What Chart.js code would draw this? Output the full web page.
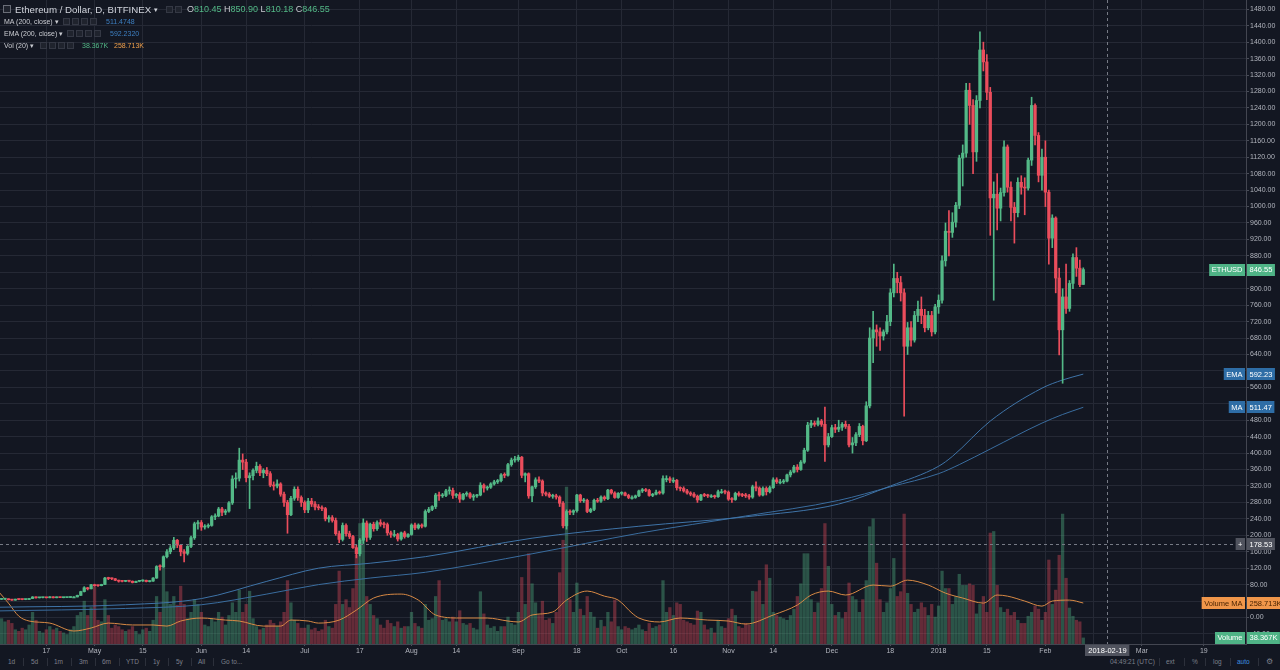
<!DOCTYPE html>
<html>
<head>
<meta charset="utf-8">
<script src="https://cdn.jsdelivr.net/npm/chart.js@4.4.1/dist/chart.umd.min.js"></script>
<style>
  html, body { margin:0; padding:0; background:#131722; }
  #wrap { position:relative; width:1280px; height:670px; overflow:hidden; background:#131722; font-family:"Liberation Sans", Arial, sans-serif; }
  #c { position:absolute; left:0; top:0; }
  .t { position:absolute; white-space:nowrap; line-height:1; }
  .box { position:absolute; width:7px; height:7px; background:#1f232d; border:1px solid #343844; box-sizing:border-box; }
  .tb { position:absolute; top:658px; font-size:6.5px; color:#7c808b; white-space:nowrap; line-height:8px; }
  .sep { position:absolute; top:658px; width:1px; height:8px; background:#2c303b; }
  .k { color:#c9cbd1; }
  .g { color:#53b987; }
</style>
</head>
<body>
<div id="wrap">
  <canvas id="c" width="1280" height="656"></canvas>

  <!-- legend -->
  <div class="box" style="left:3px;top:5px;width:8px;height:8px;border-color:#6a6e78;"></div>
  <div class="t" style="left:15px;top:5px;font-size:9.7px;color:#d1d4dc;">Ethereum / Dollar, D, BITFINEX</div>
  <div class="t" style="left:154px;top:6px;font-size:7px;color:#d1d4dc;">▾</div>
  <div class="box" style="left:166px;top:6px;"></div>
  <div class="box" style="left:175px;top:6px;"></div>
  <div class="t" style="left:187px;top:5px;font-size:9px;"><span class="k">O</span><span class="g">810.45</span> <span class="k">H</span><span class="g">850.90</span> <span class="k">L</span><span class="g">810.18</span> <span class="k">C</span><span class="g">846.55</span></div>

  <div class="t" style="left:4px;top:18px;font-size:7px;color:#c9cbd1;">MA (200, close) ▾</div>
  <div class="box" style="left:63px;top:18px;"></div><div class="box" style="left:72px;top:18px;"></div><div class="box" style="left:81px;top:18px;"></div><div class="box" style="left:90px;top:18px;"></div>
  <div class="t" style="left:106px;top:18px;font-size:7px;color:#3d7fc1;">511.4748</div>

  <div class="t" style="left:4px;top:30px;font-size:7px;color:#c9cbd1;">EMA (200, close) ▾</div>
  <div class="box" style="left:67px;top:30px;"></div><div class="box" style="left:76px;top:30px;"></div><div class="box" style="left:85px;top:30px;"></div><div class="box" style="left:94px;top:30px;"></div>
  <div class="t" style="left:110px;top:30px;font-size:7px;color:#3d7fc1;">592.2320</div>

  <div class="t" style="left:4px;top:42px;font-size:7px;color:#c9cbd1;">Vol (20) ▾</div>
  <div class="box" style="left:40px;top:42px;"></div><div class="box" style="left:49px;top:42px;"></div><div class="box" style="left:58px;top:42px;"></div><div class="box" style="left:67px;top:42px;"></div>
  <div class="t" style="left:82px;top:42px;font-size:7px;color:#53b987;">38.367K</div>
  <div class="t" style="left:114px;top:42px;font-size:7px;color:#f0a04b;">258.713K</div>

  <!-- bottom toolbar -->
  <div class="tb" style="left:8px;">1d</div><div class="sep" style="left:23px;"></div>
  <div class="tb" style="left:31px;">5d</div><div class="sep" style="left:47px;"></div>
  <div class="tb" style="left:54px;">1m</div><div class="sep" style="left:71px;"></div>
  <div class="tb" style="left:79px;">3m</div><div class="sep" style="left:95px;"></div>
  <div class="tb" style="left:102px;">6m</div><div class="sep" style="left:119px;"></div>
  <div class="tb" style="left:126px;">YTD</div><div class="sep" style="left:145px;"></div>
  <div class="tb" style="left:153px;">1y</div><div class="sep" style="left:168px;"></div>
  <div class="tb" style="left:176px;">5y</div><div class="sep" style="left:191px;"></div>
  <div class="tb" style="left:198px;">All</div><div class="sep" style="left:213px;"></div>
  <div class="tb" style="left:221px;">Go to...</div>
  <div class="tb" style="left:1110px;">04:49:21 (UTC)</div><div class="sep" style="left:1159px;"></div>
  <div class="tb" style="left:1166px;">ext</div><div class="sep" style="left:1184px;"></div>
  <div class="tb" style="left:1192px;">%</div><div class="sep" style="left:1205px;"></div>
  <div class="tb" style="left:1213px;">log</div><div class="sep" style="left:1230px;"></div>
  <div class="tb" style="left:1237px;color:#3d8fe0;">auto</div><div class="sep" style="left:1258px;"></div>
  <div class="tb" style="left:1266px;font-size:8px;">⚙</div>
</div>

<script>
// ---------- data (daily, 2017-04-01 .. 2018-02-12; day numbers counted from 2018-01-01) ----------
const firstDay = -275;

const open = [
  50.8,50.5,48.5,44.1,44.6,45.2,43.2,42.3,44.3,43.8,43.7,43.8,46.1,49.9,47.9,48.3,48.4,48.0,50.4,48.0,49.6,48.3,48.5,48.6,50.0,50.0,53.8,63.0,72.4,69.8,
  79.8,77.5,77.4,80.5,96.0,94.8,94.3,90.5,88.4,87.9,88.4,88.3,85.0,88.0,88.9,90.6,87.4,88.6,96.0,124,123.5,148,160,169,188,176,160,156,173,194,228,
  231,220,222,224,245,247,264,256,259,279,337,339,383,378,340,345,358,368,352,358,350,322,320,325,300,280,250,290,312,292,
  280,262,283,276,269,267,265,240,243,236,204,190,224,204,197,170,155,188,230,195,227,216,231,227,226,206,202,202,191,206,197,
  202,225,218,225,222,258,263,270,298,296,297,308,309,297,299,288,300,301,293,296,298,322,315,317,325,330,333,347,346,372,383,
  384,390,346,350,296,318,335,332,303,300,295,296,293,278,223,258,256,260,298,284,285,258,263,285,283,293,289,310,303,292,
  302,303,297,292,292,296,308,311,309,297,300,305,303,338,338,334,334,316,314,308,303,300,295,286,298,297,296,296,294,306,306,
  305,288,287,302,298,297,296,293,318,315,298,314,306,316,335,330,330,332,347,354,366,360,378,407,468,473,470,478,470,420,
  440,462,458,463,470,465,420,425,445,465,430,515,680,700,695,685,695,720,790,825,815,790,660,705,675,735,750,735,705,735,695,
  756,772,868,940,937,962,1003,1118,1130,1283,1246,1133,1258,1381,1352,1278,1021,1030,996,1034,1145,1047,998,985,1059,1047,1045,1113,1246,1173,1076,
  1120,1035,923,972,826,700,780,752,813,876,850,810.45
];
const high = [
  51.5,51.0,49.0,46.0,46.5,45.8,43.8,44.8,45.0,44.5,44.5,46.8,51.0,50.5,48.8,49.0,48.8,50.9,50.6,50.2,49.8,49.0,49.2,50.5,50.6,54.5,64.0,75.0,73.5,80.5,
  81,79,81,97.5,98,96,95,91,89.5,90,89.5,89,88.8,89.5,91.5,91,89.5,97,126,128,150,165,175,195,190,178,165,175,198,232,236,
  236,226,228,248,252,268,268,263,282,345,352,412,398,385,352,362,378,372,362,365,355,330,335,328,305,285,295,318,318,296,
  284,290,290,282,275,272,268,248,248,242,210,230,228,210,200,176,192,240,235,230,232,235,238,232,230,210,212,205,208,210,204,
  228,230,228,228,262,268,272,302,305,302,312,318,315,302,304,302,306,304,300,300,328,325,320,328,334,336,350,352,375,388,392,
  395,392,352,352,320,340,342,335,306,304,300,300,296,282,262,262,262,300,300,290,288,266,288,290,296,296,312,312,306,304,
  306,305,300,296,298,310,314,314,312,302,310,308,345,345,342,340,336,318,318,312,306,304,298,300,302,300,299,298,310,312,310,
  308,292,305,306,302,302,300,322,330,318,318,318,320,340,340,336,336,349,358,370,372,382,412,475,480,478,486,482,512,448,
  468,470,480,474,478,470,438,450,472,468,525,705,745,712,705,700,735,800,860,840,830,800,718,720,745,770,780,750,745,745,762,
  785,880,960,990,985,1010,1125,1150,1300,1300,1260,1270,1425,1400,1370,1290,1060,1080,1045,1160,1150,1060,1010,1070,1075,1070,1118,1266,1250,1180,1140,
  1160,1040,980,975,850,800,860,820,885,900,870,850.90
];
const low = [
  49.5,48.0,43.0,43.5,44.0,42.5,41.5,42.0,43.2,43.0,43.2,43.5,45.8,47.0,47.5,47.8,47.5,47.8,47.5,47.8,48.0,47.8,48.0,48.3,49.2,49.8,53.5,62.0,67.0,69.5,
  76,75.5,77,80,92,92,89.5,86,86.5,87,86.5,84,84.5,86.8,87.8,86.5,86.5,88,95,115,122,145,155,165,170,150,135,152,170,190,215,
  212,215,218,222,238,245,248,250,256,275,315,332,360,330,265,335,352,345,340,345,318,310,315,295,270,205,248,285,285,270,
  255,255,270,262,262,260,235,232,232,200,182,186,198,192,168,145,150,180,185,190,210,212,222,218,200,195,196,186,188,193,195,
  200,214,215,218,220,255,260,265,285,292,294,300,290,292,280,286,295,290,285,292,296,305,310,314,322,326,330,340,344,368,378,
  380,340,330,290,282,314,328,296,296,292,290,288,270,218,215,250,250,256,280,280,255,255,260,280,280,285,287,300,290,290,
  298,296,289,288,290,294,304,306,295,294,298,300,300,330,328,328,310,308,305,300,296,292,280,284,294,292,292,290,292,302,301,
  285,280,285,295,294,292,288,290,308,295,296,298,303,314,326,325,326,330,342,352,354,358,375,404,462,465,466,465,380,415,
  438,450,452,455,460,415,400,418,440,420,428,510,620,660,650,675,690,710,780,790,770,490,640,660,670,720,715,695,700,685,690,
  740,765,855,880,925,950,995,1050,1120,1200,1080,1110,1240,1330,1260,930,772,943,965,1025,1035,965,911,975,1030,980,1040,1100,1150,1060,1040,
  1000,860,900,790,639,570,740,745,800,830,805,810.18
];
const close = [
  50.5,48.5,44.1,44.6,45.2,43.2,42.3,44.3,43.8,43.7,43.8,46.1,49.9,47.9,48.3,48.4,48.0,50.4,48.0,49.6,48.3,48.5,48.6,50.0,50.0,53.8,63.0,72.4,69.8,79.8,
  77.5,77.4,80.5,96.0,94.8,94.3,90.5,88.4,87.9,88.4,88.3,85.0,88.0,88.9,90.6,87.4,88.6,96.0,124,123.5,148,160,169,188,176,160,156,173,194,228,231,
  220,222,224,245,247,264,256,259,279,337,339,383,378,340,345,358,368,352,358,350,322,320,325,300,280,250,290,312,292,280,
  262,283,276,269,267,265,240,243,236,204,190,224,204,197,170,155,188,230,195,227,216,231,227,226,206,202,202,191,206,197,202,
  225,218,225,222,258,263,270,298,296,297,308,309,297,299,288,300,301,293,296,298,322,315,317,325,330,333,347,346,372,383,384,
  390,346,350,296,318,335,332,303,300,295,296,293,278,223,258,256,260,298,284,285,258,263,285,283,293,289,310,303,292,302,
  303,297,292,292,296,308,311,309,297,300,305,303,338,338,334,334,316,314,308,303,300,295,286,298,297,296,296,294,306,306,305,
  288,287,302,298,297,296,293,318,315,298,314,306,316,335,330,330,332,347,354,366,360,378,407,468,473,470,478,470,420,440,
  462,458,463,470,465,420,425,445,465,430,515,680,700,695,685,695,720,790,825,815,790,660,705,675,735,750,735,705,735,695,756,
  772,868,940,937,962,1003,1118,1130,1283,1246,1133,1258,1381,1352,1278,1021,1030,996,1034,1145,1047,998,985,1059,1047,1045,1113,1246,1173,1076,1120,
  1035,923,972,826,700,780,752,813,876,850,810,846.55
];
// volume in thousands (K)
const volume = [
  300,280,330,160,140,150,130,90,80,100,90,120,200,150,80,70,90,110,90,100,80,70,60,90,110,180,200,270,180,230,
  360,150,140,280,180,100,120,110,90,80,90,110,80,60,90,100,80,150,300,200,490,330,250,300,245,365,250,160,200,280,250,
  200,120,110,160,140,200,170,120,180,260,200,340,200,250,333,160,110,90,100,120,150,130,110,140,200,400,260,150,130,100,
  100,120,90,100,80,90,150,110,100,250,460,250,280,230,350,560,760,680,300,250,180,160,120,100,150,130,110,140,100,110,110,
  200,130,110,100,250,150,160,300,400,150,160,140,170,140,210,130,120,130,100,90,330,190,120,100,110,80,110,110,170,130,120,
  200,420,250,570,380,260,180,270,150,160,130,200,450,655,990,280,200,385,220,180,300,200,170,100,150,110,200,140,277,110,
  90,110,100,90,100,120,90,80,130,100,110,120,400,200,230,180,260,250,150,140,130,120,208,200,120,90,100,70,150,110,100,
  160,220,180,110,100,130,120,333,330,400,250,500,415,200,180,170,160,150,180,220,300,380,570,570,280,200,260,350,760,490,
  250,180,200,160,200,385,300,280,200,280,400,740,790,510,280,200,260,350,540,300,330,820,320,250,200,220,260,230,180,250,170,
  240,460,350,350,250,300,440,370,370,380,370,190,250,300,200,700,710,370,230,200,220,180,200,150,130,130,175,200,240,220,150,
  200,530,250,340,560,820,415,227,175,150,140,38.367
];

// indicator lines (day number, value)
const maDays    = [-273,-236,-214,-195,-180,-165,-149,-118,-87,-56,-29,-14,0,6,15,30,36,42];
const maValues  = [16,22,31,57,80,96,110,155,205,247,285,318,350,372,410,473,494,511.47];
const emaDays   = [-273,-236,-214,-195,-180,-165,-149,-118,-87,-56,-29,-14,0,4,15,30,36,42];
const emaValues = [25,31,46,88,120,132,148,193,222,245,276,320,368,392,478,558,578,592.23];
const volMaDays   = [-273,-270,-267,-264,-258,-251,-246,-241,-234,-228,-224,-220,-214,-207,-203,-196,-191,-188,-183,-180,-174,-169,-164,-156,-151,-146,-139,-131,-125,-122,-118,-112,-108,-102,-97,-93,-89,-87,-81,-75,-67,-61,-56,-48,-41,-37,-32,-27,-19,-14,-9,-3,2,7,13,17,20,25,30,33,38,42];
const volMaValues = [334,258,176,145,132,82,101,132,120,120,113,145,164,151,145,113,113,151,145,132,151,214,290,315,277,183,164,164,145,139,183,202,277,334,302,277,195,164,139,164,151,145,126,183,246,309,334,309,372,365,403,372,321,290,258,309,302,271,239,271,277,258.713];

// x axis ticks
const tickDays   = [-259,-245,-231,-214,-201,-184,-168,-153,-140,-122,-105,-92,-77,-61,-48,-31,-14,0,14,31,45,59,77];
const tickLabels = ['17','May','15','Jun','14','Jul','17','Aug','14','Sep','18','Oct','16','Nov','14','Dec','18','2018','15','Feb','15','Mar','19'];

// last values / crosshair
const lastPrice = 846.55, lastEma = 592.23, lastMa = 511.47;
const lastVol = 38.367, lastVolMa = 258.713;
const crossPrice = 178.53, crossDay = 49, crossDate = '2018-02-19';

// ---------- chart ----------
const UP = '#53b987', DOWN = '#eb4d5c';
const UPV = 'rgba(83,185,135,0.38)', DOWNV = 'rgba(235,77,92,0.38)';
const days = open.map((_, i) => firstDay + i);
const up = open.map((o, i) => close[i] >= o);

const bodyData = days.map((d, i) => ({ x: d, y: [Math.min(open[i], close[i]), Math.max(open[i], close[i])] }));
const wickData = days.map((d, i) => ({ x: d, y: [low[i], high[i]] }));
const volData  = days.map((d, i) => ({ x: d, y: volume[i] }));
const pts = (ds, vs) => ds.map((d, i) => ({ x: d, y: vs[i] }));

const FONT = '"Liberation Sans", Arial, sans-serif';
const AX = '#b2b5be';
const GRID = '#252935';

function badge(ctx, y, leftText, rightText, bg, fg) {
  const axisX = 1246, h = 12;
  ctx.font = '7.5px ' + FONT;
  ctx.textBaseline = 'middle';
  const rw = ctx.measureText(rightText).width + 5;
  ctx.fillStyle = bg;
  ctx.fillRect(axisX + 1, Math.round(y - h / 2), rw, h);
  ctx.fillStyle = fg;
  ctx.textAlign = 'left';
  ctx.fillText(rightText, axisX + 3.5, y + 0.5);
  if (leftText) {
    const lw = ctx.measureText(leftText).width + 5;
    ctx.fillStyle = bg;
    ctx.fillRect(axisX - 1 - lw, Math.round(y - h / 2), lw, h);
    ctx.fillStyle = fg;
    ctx.fillText(leftText, axisX - 1 - lw + 2.5, y + 0.5);
  }
}

const overlay = {
  id: 'overlay',
  afterDatasetsDraw(chart) {
    const { ctx, chartArea: a, scales } = chart;
    const cy = scales.y.getPixelForValue(crossPrice);
    const cx = scales.x.getPixelForValue(crossDay);
    ctx.save();
    ctx.strokeStyle = '#767a85';
    ctx.lineWidth = 1;
    ctx.setLineDash([3, 3]);
    ctx.beginPath();
    ctx.moveTo(a.left, Math.round(cy) + 0.5); ctx.lineTo(a.right, Math.round(cy) + 0.5);
    ctx.moveTo(Math.round(cx) + 0.5, a.top); ctx.lineTo(Math.round(cx) + 0.5, a.bottom);
    ctx.stroke();
    ctx.restore();
  },
  afterDraw(chart) {
    const { ctx, scales, chartArea: a } = chart;
    ctx.save();
    badge(ctx, scales.y.getPixelForValue(lastPrice), 'ETHUSD', lastPrice.toFixed(2), '#4fb386', '#ffffff');
    badge(ctx, scales.y.getPixelForValue(lastEma), 'EMA', lastEma.toFixed(2), '#2e6da6', '#ffffff');
    badge(ctx, scales.y.getPixelForValue(lastMa), 'MA', lastMa.toFixed(2), '#2e6da6', '#ffffff');
    badge(ctx, scales.y.getPixelForValue(crossPrice), '+', crossPrice.toFixed(2), '#50535e', '#ffffff');
    badge(ctx, scales.yv.getPixelForValue(lastVolMa), 'Volume MA', lastVolMa.toFixed(3) + 'K', '#f0964a', '#4a2300');
    badge(ctx, scales.yv.getPixelForValue(lastVol), 'Volume', lastVol.toFixed(3) + 'K', '#4fb386', '#ffffff');
    // date badge on time axis
    const cx = scales.x.getPixelForValue(crossDay);
    ctx.font = '7.5px ' + FONT;
    const w = ctx.measureText(crossDate).width + 6;
    ctx.fillStyle = '#50535e';
    ctx.fillRect(Math.round(cx - w / 2), a.bottom + 1, w, 11);
    ctx.fillStyle = '#ffffff';
    ctx.textAlign = 'center';
    ctx.textBaseline = 'middle';
    ctx.fillText(crossDate, cx, a.bottom + 7);
    ctx.restore();
  }
};

new Chart(document.getElementById('c'), {
  type: 'bar',
  data: {
    datasets: [
      { type: 'bar', data: bodyData, yAxisID: 'y', order: 0, grouped: false, barThickness: 2.6, minBarLength: 1,
        backgroundColor: c => up[c.dataIndex] ? UP : DOWN, borderWidth: 0 },
      { type: 'bar', data: wickData, yAxisID: 'y', order: 1, grouped: false, barThickness: 1,
        backgroundColor: c => up[c.dataIndex] ? UP : DOWN, borderWidth: 0 },
      { type: 'line', data: pts(emaDays, emaValues), yAxisID: 'y', order: 2, borderColor: '#3f74a8', borderWidth: 1,
        pointRadius: 0, cubicInterpolationMode: 'monotone', fill: false },
      { type: 'line', data: pts(maDays, maValues), yAxisID: 'y', order: 2, borderColor: '#3a6d9f', borderWidth: 1,
        pointRadius: 0, cubicInterpolationMode: 'monotone', fill: false },
      { type: 'line', data: pts(volMaDays, volMaValues), yAxisID: 'yv', order: 3, borderColor: '#d98a45', borderWidth: 1,
        pointRadius: 0, cubicInterpolationMode: 'monotone', fill: false },
      { type: 'bar', data: volData, yAxisID: 'yv', order: 4, grouped: false, barThickness: 2.6,
        backgroundColor: c => up[c.dataIndex] ? UPV : DOWNV, borderWidth: 0 }
    ]
  },
  options: {
    responsive: false,
    animation: false,
    devicePixelRatio: 1,
    events: [],
    layout: { padding: 0 },
    plugins: { legend: { display: false }, tooltip: { enabled: false } },
    scales: {
      x: {
        type: 'linear', min: -272.45, max: 89.23, offset: false,
        grid: { offset: false, color: GRID, tickColor: '#4a4e59', tickLength: 2, drawTicks: true },
        border: { color: '#434651' },
        afterBuildTicks: s => { s.ticks = tickDays.map(v => ({ value: v })); },
        afterFit: s => { s.height = 12; s.paddingLeft = 0; s.paddingRight = 0; },
        ticks: { autoSkip: false, maxRotation: 0, minRotation: 0, padding: 1, color: AX,
          font: { family: FONT, size: 7 }, callback: (v, i) => tickLabels[i] }
      },
      y: {
        position: 'right', min: -64.5, max: 1502.6,
        grid: { color: GRID, tickColor: '#4a4e59', tickLength: 3, drawTicks: true },
        border: { color: '#434651' },
        afterFit: s => { s.width = 34; s.paddingTop = 0; s.paddingBottom = 0; },
        ticks: { stepSize: 40, includeBounds: false, padding: 1, color: AX, font: { family: FONT, size: 7 },
          callback: v => Number(v).toFixed(2) }
      },
      yv: { display: false, min: 0, max: 4064 }
    }
  },
  plugins: [overlay]
});
</script>
</body>
</html>
